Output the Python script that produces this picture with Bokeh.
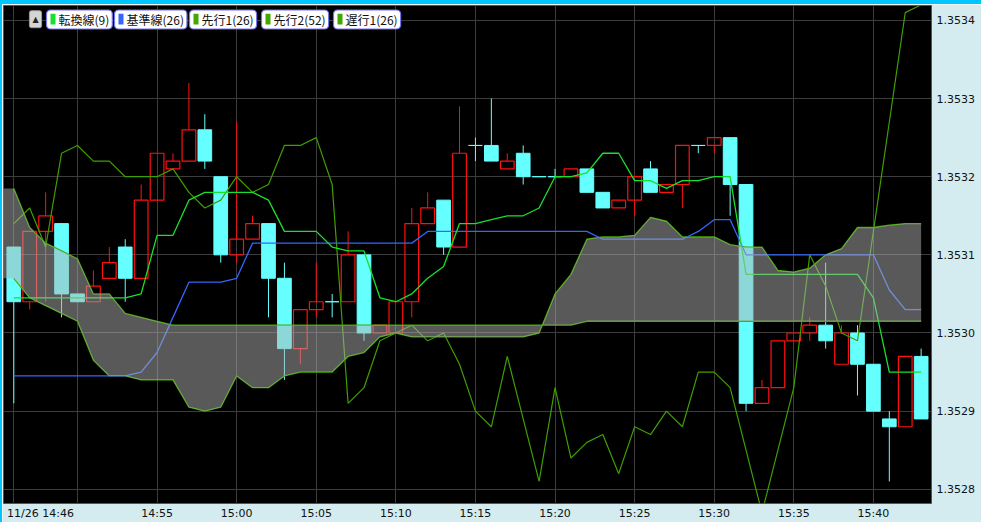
import numpy as np
from bokeh.plotting import figure
from bokeh.models import (Range1d, FixedTicker, PrintfTickFormatter, Label,
                          BoxAnnotation, ColumnDataSource)
from bokeh.embed import file_html
from bokeh.resources import INLINE

# ---------------- data (one candle per minute, 11/26 14:46 .. 15:43) ----------------
minute_index = list(range(58))

open_ = [1.35311, 1.35304, 1.35313, 1.35314, 1.35305, 1.35304, 1.35307, 1.35311, 1.35307, 1.35317,
         1.35321, 1.35322, 1.35326, 1.35320, 1.35310, 1.35312, 1.35314, 1.35307, 1.35298, 1.35303,
         1.35304, 1.35304, 1.35310, 1.35300, 1.35300, 1.35304, 1.35314, 1.35317, 1.35311, 1.35324,
         1.35324, 1.35321, 1.35323, 1.35320, 1.35320, 1.35320, 1.35321, 1.35318, 1.35316, 1.35317,
         1.35321, 1.35318, 1.35319, 1.35324, 1.35324, 1.35325, 1.35319, 1.35291, 1.35293, 1.35299,
         1.35300, 1.35301, 1.35296, 1.35300, 1.35296, 1.35289, 1.35288, 1.35297]
high = [1.35311, 1.35313, 1.35318, 1.35314, 1.35305, 1.35308, 1.35311, 1.35312, 1.35319, 1.35323,
        1.35323, 1.35332, 1.35328, 1.35320, 1.35327, 1.35315, 1.35314, 1.35309, 1.35303, 1.35309,
        1.35305, 1.35313, 1.35310, 1.35301, 1.35304, 1.35316, 1.35318, 1.35317, 1.35329, 1.35325,
        1.35330, 1.35323, 1.35324, 1.35320, 1.35321, 1.35321, 1.35321, 1.35318, 1.35317, 1.35320,
        1.35322, 1.35319, 1.35324, 1.35324, 1.35325, 1.35325, 1.35319, 1.35294, 1.35299, 1.35300,
        1.35302, 1.35309, 1.35301, 1.35301, 1.35296, 1.35290, 1.35297, 1.35298]
low = [1.35291, 1.35303, 1.35304, 1.35302, 1.35304, 1.35304, 1.35307, 1.35304, 1.35307, 1.35317,
       1.35321, 1.35322, 1.35321, 1.35309, 1.35309, 1.35312, 1.35302, 1.35294, 1.35296, 1.35302,
       1.35302, 1.35304, 1.35299, 1.35300, 1.35300, 1.35302, 1.35314, 1.35310, 1.35311, 1.35322,
       1.35322, 1.35321, 1.35319, 1.35320, 1.35320, 1.35320, 1.35318, 1.35316, 1.35316, 1.35315,
       1.35318, 1.35318, 1.35316, 1.35323, 1.35323, 1.35315, 1.35290, 1.35291, 1.35293, 1.35299,
       1.35299, 1.35298, 1.35296, 1.35292, 1.35290, 1.35281, 1.35288, 1.35289]
close = [1.35304, 1.35313, 1.35315, 1.35305, 1.35304, 1.35306, 1.35309, 1.35307, 1.35317, 1.35323,
         1.35322, 1.35326, 1.35322, 1.35310, 1.35312, 1.35314, 1.35307, 1.35298, 1.35303, 1.35304,
         1.35304, 1.35310, 1.35300, 1.35301, 1.35304, 1.35314, 1.35316, 1.35311, 1.35323, 1.35324,
         1.35322, 1.35322, 1.35320, 1.35320, 1.35320, 1.35321, 1.35318, 1.35316, 1.35317, 1.35320,
         1.35318, 1.35319, 1.35324, 1.35324, 1.35325, 1.35319, 1.35291, 1.35293, 1.35299, 1.35300,
         1.35301, 1.35299, 1.35300, 1.35296, 1.35290, 1.35288, 1.35297, 1.35289]

tenkan = [1.353045, 1.353045, 1.353045, 1.353045, 1.353045, 1.353045, 1.353045, 1.353045, 1.35305, 1.353125,
          1.353125, 1.35317, 1.35318, 1.35318, 1.35318, 1.35318, 1.35317, 1.35313, 1.35313, 1.35313,
          1.35311, 1.353105, 1.353105, 1.353045, 1.35304, 1.35305, 1.35307, 1.353085, 1.35314, 1.35314,
          1.353145, 1.35315, 1.35315, 1.35316, 1.35320, 1.35320, 1.353205, 1.35323, 1.35323, 1.353195,
          1.353195, 1.353185, 1.353195, 1.353195, 1.35320, 1.35320, 1.353075, 1.353075, 1.353075, 1.353075,
          1.353075, 1.353075, 1.353075, 1.353075, 1.353045, 1.35295, 1.35295, 1.35295]
kijun = [1.352945, 1.352945, 1.352945, 1.352945, 1.352945, 1.352945, 1.352945, 1.352945, 1.35295, 1.352975,
         1.35302, 1.353065, 1.353065, 1.353065, 1.35307, 1.353115, 1.353115, 1.353115, 1.353115, 1.353115,
         1.353115, 1.353115, 1.353115, 1.353115, 1.353115, 1.353115, 1.35313, 1.35313, 1.35313, 1.35313,
         1.35313, 1.35313, 1.35313, 1.35313, 1.35313, 1.35313, 1.35313, 1.35312, 1.35312, 1.35312,
         1.35312, 1.35312, 1.35312, 1.35313, 1.353145, 1.353145, 1.35310, 1.35310, 1.35310, 1.35310,
         1.35310, 1.35310, 1.35310, 1.35310, 1.35310, 1.353055, 1.35303, 1.35303]
senkou1 = [1.35307, 1.353045, 1.353035, 1.353025, 1.353015, 1.352965, 1.352945, 1.352945, 1.35294, 1.35294,
           1.35294, 1.352905, 1.35290, 1.352905, 1.352945, 1.35293, 1.35293, 1.352945, 1.35295, 1.35295,
           1.35295, 1.35297, 1.352975, 1.352995, 1.35300, 1.352995, 1.352995, 1.352995, 1.352995, 1.352995,
           1.352995, 1.352995, 1.352995, 1.35300, 1.35305, 1.353075, 1.35312, 1.353123, 1.353123, 1.353125,
           1.353148, 1.353143, 1.353123, 1.353123, 1.353123, 1.353113, 1.35311, 1.35311, 1.35308, 1.353078,
           1.353083, 1.35310, 1.353108, 1.353135, 1.353135, 1.353138, 1.35314, 1.35314]
senkou2 = [1.353185, 1.353135, 1.353115, 1.353105, 1.353095, 1.35305, 1.35305, 1.353025, 1.35302, 1.353015,
           1.35301, 1.35301, 1.35301, 1.35301, 1.35301, 1.35301, 1.35301, 1.35301, 1.35301, 1.35301,
           1.35301, 1.35301, 1.35301, 1.35301, 1.35301, 1.35301, 1.35301, 1.35301, 1.35301, 1.35301,
           1.35301, 1.35301, 1.35301, 1.35301, 1.35301, 1.35301, 1.353015, 1.353015, 1.353015, 1.353015,
           1.353015, 1.353015, 1.353015, 1.353015, 1.353015, 1.353015, 1.353015, 1.353015, 1.353015, 1.353015,
           1.353015, 1.353015, 1.353015, 1.353015, 1.353015, 1.353015, 1.353015, 1.353015]
# cloud value one bar before the first visible candle
senkou1_before = 1.35307
senkou2_before = 1.353185
chikou = [1.35314, 1.35316, 1.35311, 1.35323, 1.35324, 1.35322, 1.35322, 1.35320, 1.35320, 1.35320,
          1.35321, 1.35318, 1.35316, 1.35317, 1.35320, 1.35318, 1.35319, 1.35324, 1.35324, 1.35325,
          1.35319, 1.35291, 1.35293, 1.35299, 1.35300, 1.35301, 1.35299, 1.35300, 1.35296, 1.35290,
          1.35288, 1.35297, 1.35289, 1.35281, 1.35293, 1.35284, 1.35286, 1.35287, 1.35282, 1.35288,
          1.35287, 1.35290, 1.35288, 1.35295, 1.35295, 1.35293, 1.35285, 1.35277, 1.35285, 1.35293,
          1.35310, 1.35306, 1.35300, 1.35299, 1.35313, 1.35327, 1.35341, 1.35342]

# vertical grid lines (minute index) and the time labels shown under them
grid_minutes = [0, 4, 9, 14, 19, 24, 29, 34, 39, 44, 49, 54]
label_minutes = [9, 14, 19, 24, 29, 34, 39, 44, 49, 54]
label_texts = ["14:55", "15:00", "15:05", "15:10", "15:15", "15:20", "15:25", "15:30", "15:35", "15:40"]
first_time_label = "11/26 14:46"
price_ticks = [1.3528, 1.3529, 1.3530, 1.3531, 1.3532, 1.3533, 1.3534]

legend_names = ["転換線(9)", "基準線(26)", "先行1(26)", "先行2(52)", "遅行1(26)"]

# ---------------- styling / layout ----------------
PAGE_BG = "#d4ecef"
TOP_BAR = "#00c6ff"
UP_COLOR = "#ff1010"
DOWN_COLOR = "#66ffff"
TENKAN_COLOR = "#19e02a"
KIJUN_COLOR = "#3366ff"
SPAN_COLOR = "#42a800"
CHIKOU_COLOR = "#3f9e00"
legend_colors = [TENKAN_COLOR, KIJUN_COLOR, SPAN_COLOR, SPAN_COLOR, SPAN_COLOR]
legend_left_px = [46, 114, 189, 261, 333]

X0, X1 = -0.647, 57.65
Y0, Y1 = 1.3527818, 1.3534191
BAR_L, BAR_T = 2, 4                      # cyan window bars (left / top)
W, H = 981 - BAR_L, 522 - BAR_T          # canvas size
FL, FT, FR, FB = 1, 1, 50, 17            # borders around the plot frame
PAGE_FRAME_LEFT, PAGE_FRAME_TOP = BAR_L + FL, BAR_T + FT
PXX = (W - FL - FR) / (X1 - X0)

# first (long) time label: left-aligned at the frame edge, i.e. centred half its width further right
first_label_pos = 0 + (6 - (PAGE_FRAME_LEFT + (0 - X0) * PXX) + 34) / PXX

shadow = (f"0 -{BAR_T}px 0 0 {TOP_BAR}, -{BAR_L}px 0 0 0 {TOP_BAR}, "
          f"-{BAR_L}px -{BAR_T}px 0 0 {TOP_BAR}")

p = figure(width=W, height=H, output_backend="svg", toolbar_location=None, tools="",
           x_range=Range1d(X0, X1), y_range=Range1d(Y0, Y1), y_axis_location="right",
           min_border_left=FL, min_border_top=FT, min_border_right=FR, min_border_bottom=FB,
           background_fill_color="black", border_fill_color=PAGE_BG,
           outline_line_color="#555555", outline_line_width=1,
           styles={"margin-left": f"{BAR_L}px", "margin-top": f"{BAR_T}px", "box-shadow": shadow})

# axes
xa = p.xaxis[0]
xa.ticker = FixedTicker(ticks=[first_label_pos] + label_minutes)
overrides = {first_label_pos: first_time_label}
overrides.update({t: s for t, s in zip(label_minutes, label_texts)})
xa.major_label_overrides = overrides
ya = p.yaxis[0]
ya.ticker = FixedTicker(ticks=price_ticks)
ya.formatter = PrintfTickFormatter(format="%.4f")
for ax in (xa, ya):
    ax.axis_line_color = None
    ax.major_tick_line_color = None
    ax.minor_tick_line_color = None
    ax.major_tick_in = 0
    ax.major_tick_out = 0
    ax.minor_tick_in = 0
    ax.minor_tick_out = 0
    ax.major_label_text_font = "DejaVu Sans"
    ax.major_label_text_font_size = "11px"
    ax.major_label_text_color = "#111111"
xa.major_label_standoff = 3
ya.major_label_standoff = 5

p.xgrid.ticker = FixedTicker(ticks=grid_minutes)
p.ygrid.ticker = FixedTicker(ticks=price_ticks)
for g in (p.xgrid, p.ygrid):
    g.grid_line_color = "#3d3d3d"
    g.grid_line_width = 1

# candles
o = np.array(open_)
c = np.array(close)
h = np.array(high)
l = np.array(low)
x = np.array(minute_index, dtype=float)
body_top = np.maximum(o, c)
body_bot = np.minimum(o, c)
up = c > o
dn = ~up
half = 0.43

src_up = ColumnDataSource(dict(x=x[up], top=body_top[up], bot=body_bot[up], h=h[up], l=l[up],
                               left=x[up] - half, right=x[up] + half))
src_dn = ColumnDataSource(dict(x=x[dn], top=body_top[dn], bot=body_bot[dn], h=h[dn], l=l[dn],
                               left=x[dn] - half, right=x[dn] + half))

for src, col in ((src_up, UP_COLOR), (src_dn, DOWN_COLOR)):
    p.segment(x0="x", y0="h", x1="x", y1="top", source=src, line_color=col, line_width=1)
    p.segment(x0="x", y0="bot", x1="x", y1="l", source=src, line_color=col, line_width=1)

p.quad(left="left", right="right", top="top", bottom="bot", source=src_up,
       fill_alpha=0, line_color=UP_COLOR, line_width=1.2)
p.quad(left="left", right="right", top="top", bottom="bot", source=src_dn,
       fill_color=DOWN_COLOR, line_color=DOWN_COLOR, line_width=1)

# ichimoku lines
p.line(minute_index, senkou2, line_color=SPAN_COLOR, line_width=1.3)
p.line(minute_index, senkou1, line_color=SPAN_COLOR, line_width=1.3)
p.line(minute_index, chikou, line_color=CHIKOU_COLOR, line_width=1.2)
p.line(minute_index, kijun, line_color=KIJUN_COLOR, line_width=1.3)
p.line(minute_index, tenkan, line_color=TENKAN_COLOR, line_width=1.3)

# cloud (drawn over everything, semi-transparent)
cloud_x = [-1] + minute_index
p.varea(x=cloud_x, y1=[senkou1_before] + senkou1, y2=[senkou2_before] + senkou2,
        fill_color="#b2b2b2", fill_alpha=0.5)

# legend button and items (offsets measured from the frame's top-left corner)
p.add_layout(Label(x=X0, y=Y1, x_offset=35 - PAGE_FRAME_LEFT, y_offset=-(18.7 - PAGE_FRAME_TOP),
                   text="▲", text_align="center", text_baseline="middle", text_font="DejaVu Sans",
                   text_font_size="8px", text_color="#222222",
                   background_fill_color="#d4d4d4", border_line_color="#9a9a9a",
                   border_radius=2, padding=dict(left=3, right=3, top=4, bottom=4)))
for name, lpx in zip(legend_names, legend_left_px):
    p.add_layout(Label(x=X0, y=Y1, x_offset=lpx - PAGE_FRAME_LEFT, y_offset=-(19 - PAGE_FRAME_TOP),
                       text=name, text_align="left", text_baseline="middle",
                       text_font="Noto Sans CJK JP", text_font_size="12px", text_color="#111111",
                       background_fill_color="white", border_line_color="#7474e8",
                       border_line_width=1.2, border_radius=4,
                       padding=dict(left=12, right=3, top=1, bottom=1)))

PXY = (H - FT - FB) / (Y1 - Y0)


def to_x(px):
    return X0 + (px - PAGE_FRAME_LEFT) / PXX


def to_y(py):
    return Y1 - (py - PAGE_FRAME_TOP) / PXY


for col, lpx in zip(legend_colors, legend_left_px):
    p.add_layout(BoxAnnotation(left=to_x(lpx + 4), right=to_x(lpx + 9), top=to_y(13.3),
                               bottom=to_y(24), fill_color=col, fill_alpha=1, line_color=None))

open("out.html", "w").write(file_html(p, INLINE))
